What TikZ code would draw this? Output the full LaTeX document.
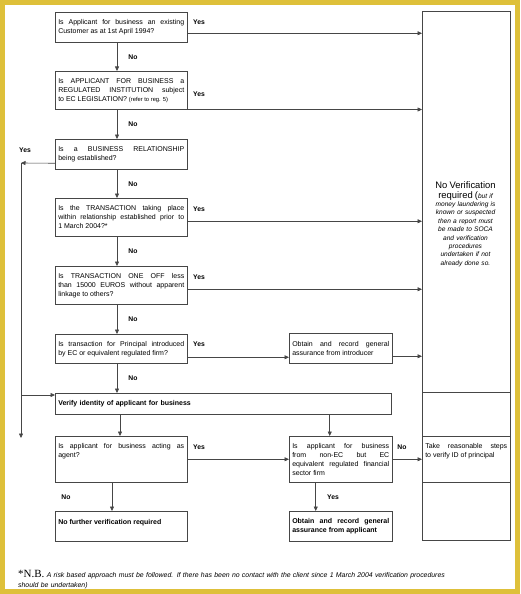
\documentclass[tikz,border=0pt]{standalone}
\usepackage{fontspec}
\setsansfont{Liberation Sans}
\newfontfamily\nbfont{Liberation Serif}
\usetikzlibrary{arrows.meta}
\definecolor{frameyellow}{RGB}{222,192,58}
\definecolor{linegray}{RGB}{70,70,70}

\begin{document}
\begin{tikzpicture}[x=1pt,y=-1pt,
    box/.style={draw=linegray, line width=.5pt, anchor=north west, inner xsep=3pt, inner ysep=1pt, text width=126pt, align=justify, font=\sffamily\fontsize{7}{9}\selectfont},
    cell/.style={draw=linegray, line width=.5pt, anchor=north west, inner sep=0pt, minimum width=88pt},
    lbl/.style={font=\sffamily\bfseries\fontsize{6.8}{8}\selectfont, inner sep=0pt},
    arr/.style={draw=linegray, line width=.6pt, -{Triangle[length=4.5pt,width=4pt]}}]
    \useasboundingbox (0,0) rectangle (520,594);
    \fill[white] (0,0) rectangle (520,594);
    \draw[frameyellow, line width=5pt] (2.5,2.5) rectangle (517.5,591.5);

    \node[box, minimum height=30pt] (q1) at (55,12) {Is Applicant for business an existing\linebreak Customer as at 1st April 1994?};
    \node[box, minimum height=38pt] (q2) at (55,71) {Is APPLICANT FOR BUSINESS a\linebreak REGULATED INSTITUTION subject\linebreak to EC LEGISLATION? {\fontsize{5.8}{9}\selectfont(refer to reg. 5)}};
    \node[box, minimum height=30pt] (q3) at (55,139) {Is a BUSINESS RELATIONSHIP\linebreak being established?};
    \node[box, minimum height=38pt] (q4) at (55,198) {Is the TRANSACTION taking place\linebreak within relationship established prior to\linebreak 1 March 2004?*};
    \node[box, minimum height=38pt] (q5) at (55,266) {Is TRANSACTION ONE OFF less\linebreak than 15000 EUROS without apparent\linebreak linkage to others?};
    \node[box, minimum height=29pt] (q6) at (55,334) {Is transaction for Principal introduced\linebreak by EC or equivalent regulated firm?};
    \node[box, text width=97pt, minimum height=30pt] (intro) at (289,333) {Obtain and record general\linebreak assurance from introducer};
    \node[box, text width=330pt, minimum height=21pt, align=left, font=\sffamily\bfseries\fontsize{7}{9}\selectfont] (verify) at (55,393) {Verify identity of applicant for business};
    \node[box, minimum height=46pt] (q7) at (55,436) {Is applicant for business acting as\linebreak agent?\\\mbox{}\\\mbox{}};
    \node[box, text width=97pt, minimum height=46pt] (q8) at (289,436) {Is applicant for business\linebreak from non-EC but EC\linebreak equivalent regulated financial\linebreak sector firm};
    \node[box, minimum height=30pt, font=\sffamily\bfseries\fontsize{7}{9}\selectfont] (nofurther) at (55,511) {No further verification required\\\mbox{}};
    \node[box, text width=97pt, minimum height=30pt, font=\sffamily\bfseries\fontsize{7}{9}\selectfont] (assure) at (289,511) {Obtain and record general\linebreak assurance from applicant};

    \node[cell, minimum height=381pt] (nover) at (422,11) {};
    \node[cell, minimum height=44pt] (blank1) at (422,392) {};
    \node[box, text width=82pt, minimum height=46pt] (steps) at (422,436) {Take reasonable steps\linebreak to verify ID of principal\\\mbox{}\\\mbox{}};
    \node[cell, minimum height=58pt] (blank2) at (422,482) {};
    \node[text width=86pt, align=center, inner sep=0pt, font=\sffamily\itshape\fontsize{6.6}{8.4}\selectfont] (nvtext) at (465.5,224) {{\upshape\fontsize{9.4}{10}\selectfont No Verification}\\[1.5pt] {\upshape\fontsize{9.4}{10}\selectfont required (}but if\\ money laundering is\\ known or suspected\\ then a report must\\ be made to SOCA\\ and verification\\ procedures\\ undertaken if not\\ already done so.};

    \coordinate (spine) at (117,0);
    \coordinate (rail) at (21,163);
    \coordinate (railend) at (21,438);

    \draw[arr] (q1.south -| spine) -- (q2.north -| spine);
    \draw[arr] (q2.south -| spine) -- (q3.north -| spine);
    \draw[arr] (q3.south -| spine) -- (q4.north -| spine);
    \draw[arr] (q4.south -| spine) -- (q5.north -| spine);
    \draw[arr] (q5.south -| spine) -- (q6.north -| spine);
    \draw[arr] (q6.south -| spine) -- (verify.north -| spine);
    \draw[arr] ([xshift=3pt]verify.south -| spine) -- ([xshift=3pt]q7.north -| spine);
    \draw[arr] ([xshift=-5pt]q7.south -| spine) -- ([xshift=-5pt]nofurther.north -| spine);

    \draw[arr] ([yshift=-6pt]q1.east) -- ([yshift=-6pt]q1.east -| nover.west);
    \draw[arr] (q2.south east) -- (q2.south east -| nover.west);
    \draw[arr] ([yshift=-4pt]q4.east) -- ([yshift=-4pt]q4.east -| nover.west);
    \draw[arr] ([yshift=-4pt]q5.east) -- ([yshift=-4pt]q5.east -| nover.west);
    \draw[arr] ([yshift=-8.5pt]q6.east) -- ([yshift=-8.5pt]q6.east -| intro.west);
    \draw[arr] ([yshift=-8pt]intro.east) -- ([yshift=-8pt]intro.east -| nover.west);

    \draw[arr] ([yshift=-9pt]q3.west) -- (rail);
    \draw[arr] (rail) -- (railend);
    \draw[arr] ([yshift=-2pt]rail |- verify.north) -- ([yshift=-2pt]verify.north west);

    \draw[arr] (q7) -- (q8);
    \draw[arr] (q8) -- (steps);
    \draw[arr] ([xshift=-11pt]verify.south -| q8.north) -- ([xshift=-11pt]q8.north);
    \draw[arr] ([xshift=-25pt]q8.south) -- ([xshift=-25pt]assure.north);

    \node[lbl] (y1) at (199,22) {Yes};
    \node[lbl] (y2) at (199,94) {Yes};
    \node[lbl] (y3) at (25,150) {Yes};
    \node[lbl] (y4) at (199,209) {Yes};
    \node[lbl] (y5) at (199,277) {Yes};
    \node[lbl] (y6) at (199,344) {Yes};
    \node[lbl] (y7) at (199,447) {Yes};
    \node[lbl] (y8) at (333,497) {Yes};
    \node[lbl] (n1) at (133,57) {No};
    \node[lbl] (n2) at (133,124) {No};
    \node[lbl] (n3) at (133,184) {No};
    \node[lbl] (n4) at (133,251) {No};
    \node[lbl] (n5) at (133,319) {No};
    \node[lbl] (n6) at (133,378) {No};
    \node[lbl] (n7) at (66,497) {No};
    \node[lbl] (n8) at (402,447) {No};

    \node[anchor=north west, inner sep=0pt, text width=460pt, align=left, font=\sffamily\itshape\fontsize{6.9}{10}\selectfont] (nb) at (18,570) {{\nbfont\upshape\fontsize{11}{10}\selectfont *N.B.} A risk based approach must be followed. If there has been no contact with the client since 1 March 2004 verification procedures\\ should be undertaken)};
\end{tikzpicture}
\end{document}
